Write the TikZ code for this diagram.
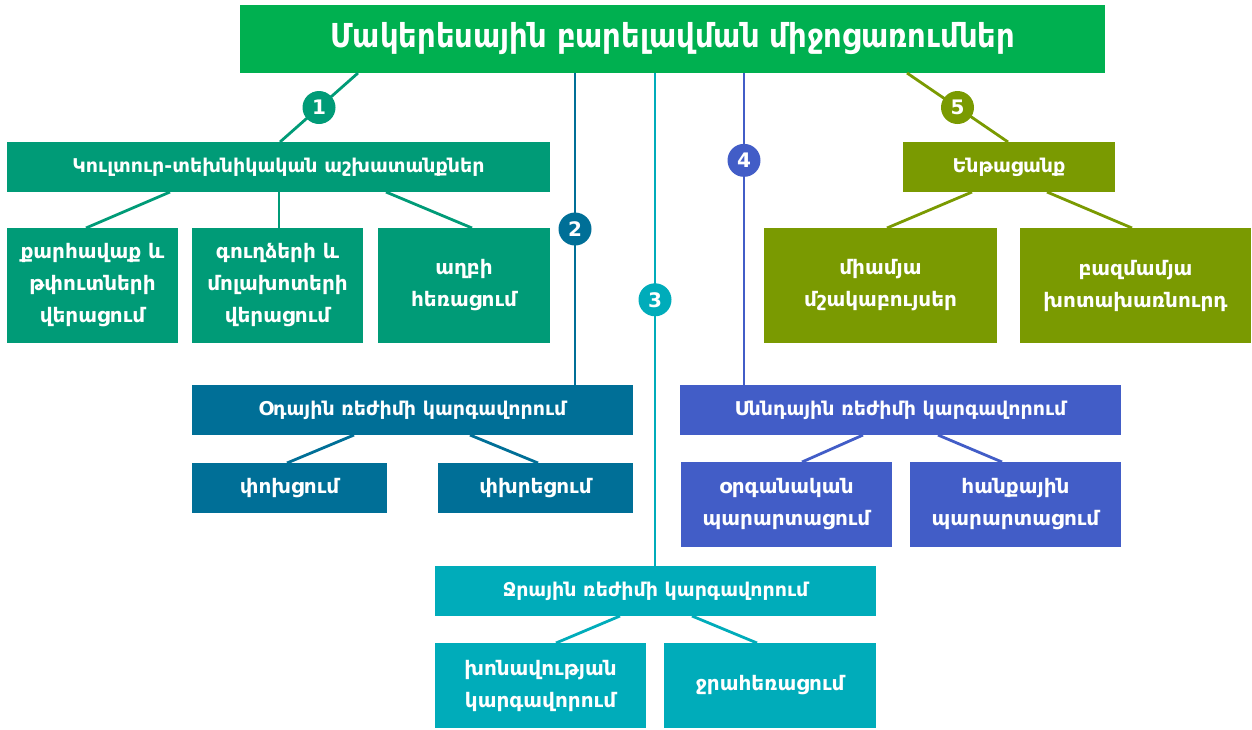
\documentclass[tikz,border=0pt]{standalone}
\usepackage{fontspec}
\setmainfont{DejaVu Sans}
\newfontfamily\titlefont{DejaVu Sans}[FakeStretch=0.88]
\usetikzlibrary{calc, positioning}
\definecolor{titlegreen}{HTML}{00B050}
\definecolor{kultcol}{HTML}{009B77}
\definecolor{aircol}{HTML}{006F97}
\definecolor{watercol}{HTML}{00ACBA}
\definecolor{foodcol}{HTML}{425DC7}
\definecolor{subcol}{HTML}{7A9A01}

\begin{document}
\begin{tikzpicture}[% styles used in image code
  x=1pt, y=-1pt, % one unit = one pixel, y downwards
  box/.style  = {fill=#1, text=white, inner sep=0pt, outer sep=0pt,
                 align=center},
  head/.style = {box=#1, minimum height=50pt,
                 font=\bfseries\fontsize{19}{30}\selectfont},
  leaf/.style = {box=#1,
                 font=\bfseries\fontsize{20}{32}\selectfont},
  link/.style = {draw=#1, line width=2.8pt},
 badge/.style = {circle, fill=#1, text=white, minimum size=33pt,
                 inner sep=0pt, font=\bfseries\fontsize{20}{20}\selectfont}
                   ]
  \useasboundingbox (0,0) rectangle (1252,729);

  % title
  \node[box=titlegreen, minimum width=865pt, minimum height=68pt,
        font=\titlefont\bfseries\fontsize{33}{33}\selectfont] (title) at (672.5,39)
        {Մակերեսային բարելավման միջոցառումներ};

  % 1
  \node[head=kultcol, minimum width=543pt] (kult) at (278.5,167)
        {Կուլտուր-տեխնիկական աշխատանքներ};
  \node[leaf=kultcol, minimum width=171pt, minimum height=115pt] (kultA) at (92.5,285.5)
        {քարհավաք և\\թփուտների\\վերացում};
  \node[leaf=kultcol, minimum width=171pt, minimum height=115pt] (kultB) at (277.5,285.5)
        {գուղձերի և\\մոլախոտերի\\վերացում};
  \node[leaf=kultcol, minimum width=172pt, minimum height=115pt] (kultC) at (464,285.5)
        {աղբի\\հեռացում};

  % 2
  \node[head=aircol, minimum width=441pt] (air) at (412.5,410)
        {Օդային ռեժիմի կարգավորում};
  \node[leaf=aircol, minimum width=195pt, minimum height=50pt] (airA) at (289.5,488)
        {փոխցում};
  \node[leaf=aircol, minimum width=195pt, minimum height=50pt] (airB) at (535.5,488)
        {փխրեցում};

  % 3
  \node[head=watercol, minimum width=441pt] (water) at (655.5,591)
        {Ջրային ռեժիմի կարգավորում};
  \node[leaf=watercol, minimum width=211pt, minimum height=85pt] (waterA) at (540.5,685.5)
        {խոնավության\\կարգավորում};
  \node[leaf=watercol, minimum width=212pt, minimum height=85pt] (waterB) at (770,685.5)
        {ջրահեռացում};

  % 4
  \node[head=foodcol, minimum width=441pt] (food) at (900.5,410)
        {Սննդային ռեժիմի կարգավորում};
  \node[leaf=foodcol, minimum width=211pt, minimum height=85pt] (foodA) at (786.5,504.5)
        {օրգանական\\պարարտացում};
  \node[leaf=foodcol, minimum width=211pt, minimum height=85pt] (foodB) at (1015.5,504.5)
        {հանքային\\պարարտացում};

  % 5
  \node[head=subcol, minimum width=212pt] (sub) at (1009,167)
        {Ենթացանք};
  \node[leaf=subcol, minimum width=233pt, minimum height=115pt] (subA) at (880.5,285.5)
        {միամյա\\մշակաբույսեր};
  \node[leaf=subcol, minimum width=231pt, minimum height=115pt] (subB) at (1135.5,285.5)
        {բազմամյա\\խոտախառնուրդ};

  % links from the title, with numbers
  \draw[link=kultcol] (title.south -| 358,0) -- node[badge=kultcol] (n1) {1} (kult.north -| 280,0);
  \draw[link=aircol] (title.south -| 575,0) -- node[badge=aircol] (n2) {2} (air.north -| 575,0);
  \draw[link=watercol] (title.south -| 655,0) -- node[badge=watercol, pos=0.46] (n3) {3} (water.north -| 655,0);
  \draw[link=foodcol] (title.south -| 744,0) -- node[badge=foodcol, pos=0.28] (n4) {4} (food.north -| 744,0);
  \draw[link=subcol] (title.south -| 907,0) -- node[badge=subcol] (n5) {5} (sub.north -| 1008,0);

  % links to the leaves
  \draw[link=kultcol] (kult.south -| 170,0) -- (kultA.north -| 86,0);
  \draw[link=kultcol] (kult.south -| 279,0) -- (kultB.north -| 279,0);
  \draw[link=kultcol] (kult.south -| 386,0) -- (kultC.north -| 472,0);
  \draw[link=aircol] (air.south -| 354,0) -- (airA.north -| 287,0);
  \draw[link=aircol] (air.south -| 470,0) -- (airB.north -| 538,0);
  \draw[link=watercol] (water.south -| 620,0) -- (waterA.north -| 556,0);
  \draw[link=watercol] (water.south -| 692,0) -- (waterB.north -| 757,0);
  \draw[link=foodcol] (food.south -| 863,0) -- (foodA.north -| 802,0);
  \draw[link=foodcol] (food.south -| 938,0) -- (foodB.north -| 1002,0);
  \draw[link=subcol] (sub.south -| 972,0) -- (subA.north -| 887,0);
  \draw[link=subcol] (sub.south -| 1047,0) -- (subB.north -| 1132,0);
\end{tikzpicture}
\end{document}
